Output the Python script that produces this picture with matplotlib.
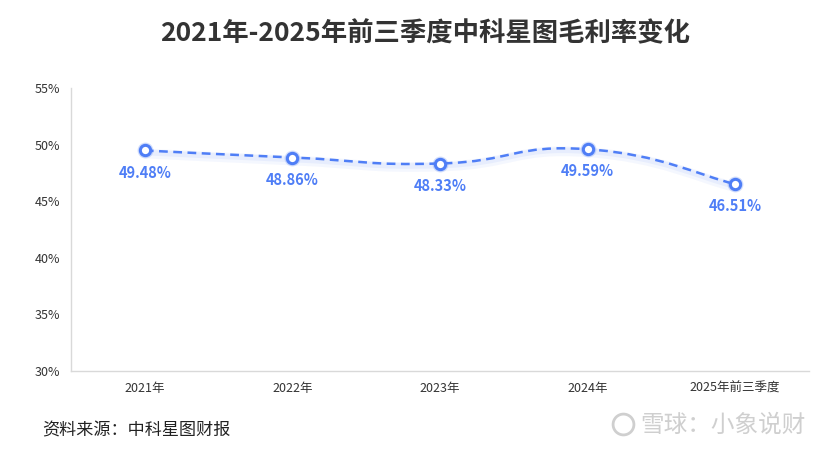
import matplotlib.pyplot as plt
import matplotlib.transforms as mtransforms
from matplotlib.path import Path
from matplotlib.patches import PathPatch
import numpy as np

plt.rcParams['font.family'] = ['Noto Sans CJK SC', 'DejaVu Sans']

years = ['2021年', '2022年', '2023年', '2024年', '2025年前三季度']
margin = [49.48, 48.86, 48.33, 49.59, 46.51]
label_txt = ['49.48%', '48.86%', '48.33%', '49.59%', '46.51%']
yticks = [30, 35, 40, 45, 50, 55]

BLUE = '#4f7ef6'


def smooth_path(xs, ys, k=0.25):
    # bezier through the points, catmull-rom style tangents
    verts = [(xs[0], ys[0])]
    codes = [Path.MOVETO]
    n = len(xs)
    for i in range(n - 1):
        x0, y0 = xs[max(i - 1, 0)], ys[max(i - 1, 0)]
        x1, y1 = xs[i], ys[i]
        x2, y2 = xs[i + 1], ys[i + 1]
        x3, y3 = xs[min(i + 2, n - 1)], ys[min(i + 2, n - 1)]
        c1 = (x1 + (x2 - x0) * k, y1 + (y2 - y0) * k)
        c2 = (x2 - (x3 - x1) * k, y2 - (y3 - y1) * k)
        verts += [c1, c2, (x2, y2)]
        codes += [Path.CURVE4] * 3
    return Path(verts, codes)


fig = plt.figure(figsize=(8.31, 4.51), dpi=100)
ax = fig.add_axes([71 / 831, 80 / 451, 738 / 831, 283 / 451])

xs = np.arange(len(years))
path = smooth_path(xs, margin)

# soft glow under the line
for off, lw, a in [(-3, 7, 0.06), (-2, 4, 0.08)]:
    tr = mtransforms.offset_copy(ax.transData, fig=fig, x=0, y=off, units='dots')
    ax.add_patch(PathPatch(path, facecolor='none', edgecolor=BLUE, lw=lw,
                           alpha=a, transform=tr, capstyle='round'))

ax.add_patch(PathPatch(path, facecolor='none', edgecolor=BLUE, lw=1.8,
                       linestyle=(0, (3.5, 2.2)), zorder=3))

ax.scatter(xs, margin, s=130, color=BLUE, alpha=0.25, lw=0, zorder=4)
ax.scatter(xs, margin, s=55, facecolor='white', edgecolor=BLUE, lw=2.2, zorder=5)

for x, v, t in zip(xs, margin, label_txt):
    ax.annotate(t, xy=(x, v), xytext=(0, -16), textcoords='offset points',
                ha='center', va='center', fontsize=10.5, fontweight='bold',
                color=BLUE, zorder=6)

ax.set_xlim(-0.5, len(years) - 0.5)
ax.set_ylim(30, 55)
ax.set_yticks(yticks)
ax.set_yticklabels([f'{t}%' for t in yticks])
ax.set_xticks(xs)
ax.set_xticklabels(years)
ax.tick_params(axis='both', length=0, labelsize=9, colors='#333333')
ax.tick_params(axis='x', pad=8)
ax.tick_params(axis='y', pad=8)

for s in ['top', 'right']:
    ax.spines[s].set_visible(False)
for s in ['left', 'bottom']:
    ax.spines[s].set_color('#d9d9d9')
    ax.spines[s].set_linewidth(1)

fig.text(0.512, 0.925, '2021年-2025年前三季度中科星图毛利率变化', ha='center', va='center',
         fontsize=19, fontweight='bold', color='#333333')
fig.text(42 / 831, 1 - 430 / 451, '资料来源：中科星图财报', ha='left', va='center',
         fontsize=12.3, color='#222222')

# watermark
fig.text(640 / 831, 1 - 425 / 451, '雪球：小象说财', ha='left', va='center',
         fontsize=17, color='#cfcfcf')
fig.add_artist(plt.Line2D([623 / 831], [1 - 424 / 451], marker='o', markersize=15,
                          markerfacecolor='none', markeredgecolor='#cfcfcf',
                          markeredgewidth=2, transform=fig.transFigure))

fig.savefig('out.png', dpi=100)
